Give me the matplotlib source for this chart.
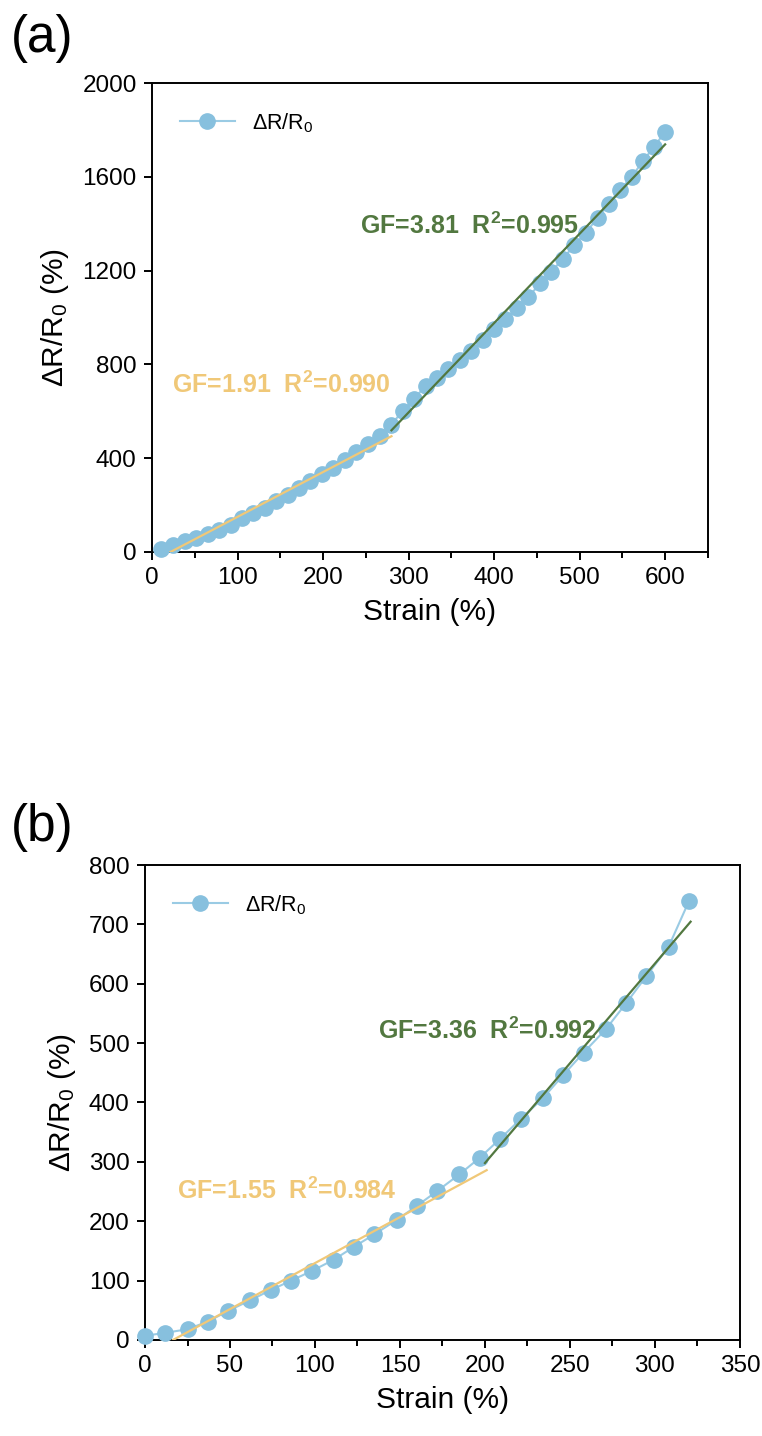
import matplotlib
matplotlib.use("Agg")
import matplotlib.pyplot as plt
from matplotlib.ticker import MultipleLocator
import numpy as np

plt.rcParams['font.family'] = ['Liberation Sans', 'DejaVu Sans']
plt.rcParams['mathtext.fontset'] = 'custom'
plt.rcParams['mathtext.rm'] = 'Liberation Sans'
plt.rcParams['mathtext.it'] = 'Liberation Sans:italic'
plt.rcParams['mathtext.bf'] = 'Liberation Sans:bold'

# (a) 数据
strain_a = [11, 24, 38, 51, 65, 78, 92, 105, 118, 132,
            145, 159, 172, 185, 199, 212, 226, 239, 252, 266,
            279, 293, 306, 320, 333, 346, 360, 373, 387, 400,
            413, 427, 440, 454, 467, 480, 494, 507, 521, 534,
            547, 561, 574, 587, 600]
resp_a = [14, 31, 46, 61, 78, 95, 117, 145, 168, 188,
          218, 245, 275, 302, 331, 360, 394, 427, 462, 494,
          541, 600, 654, 707, 743, 780, 818, 858, 903, 949,
          993, 1041, 1088, 1145, 1195, 1249, 1309, 1361, 1425, 1484,
          1543, 1600, 1667, 1728, 1792]
# 拟合: (GF, 起点 x, 起点 y, 终点 x, R2)
fit_low_a = (1.91, 21.5, 0, 280, 0.990)
fit_high_a = (3.81, 280, 519, 600, 0.995)

# (b) 数据
strain_b = [0, 12, 25, 37, 49, 62, 74, 86, 98, 111,
            123, 135, 148, 160, 172, 185, 197, 209, 221, 234,
            246, 258, 271, 283, 295, 308, 320]
resp_b = [7, 12, 18, 31, 49, 67, 84, 100, 116, 135,
          157, 178, 202, 226, 251, 279, 307, 339, 372, 407,
          446, 484, 523, 567, 613, 662, 739]
fit_low_b = (1.55, 16.5, 0, 201, 0.984)
fit_high_b = (3.36, 200, 298, 321, 0.992)

BLUE = '#87C0DE'
LINE_BLUE = '#9ACBE4'
YELLOW = '#F0C878'
GREEN = '#527840'


def fit_line(ax, fit, color):
    gf, x0, y0, x1, r2 = fit
    xs = np.array([x0, x1])
    ax.plot(xs, y0 + gf * (xs - x0), color=color, lw=1.6, zorder=4)


def draw_panel(ax, x, y, fits, texts, xlim, ylim, xmajor, ymajor):
    ax.plot(x, y, '-o', color=LINE_BLUE, mfc=BLUE, mec=BLUE, ms=11, lw=1.5,
            label='ΔR/R$\\mathregular{_0}$', zorder=3, clip_on=False)
    fit_line(ax, fits[0], YELLOW)
    fit_line(ax, fits[1], GREEN)
    for (tx, ty), fit, c in zip(texts, fits, [YELLOW, GREEN]):
        ax.text(tx, ty, 'GF=%.2f  R$\\mathregular{^2}$=%.3f' % (fit[0], fit[4]),
                color=c, fontsize=18, fontweight='bold', va='center')
    ax.set_xlim(*xlim)
    ax.set_ylim(*ylim)
    ax.xaxis.set_major_locator(MultipleLocator(xmajor))
    ax.xaxis.set_minor_locator(MultipleLocator(xmajor / 2))
    ax.yaxis.set_major_locator(MultipleLocator(ymajor))
    ax.tick_params(which='major', direction='out', length=6, width=1.4,
                   labelsize=17.5, top=False, right=False, pad=5)
    ax.tick_params(which='minor', direction='out', length=4, width=1.4)
    for s in ax.spines.values():
        s.set_linewidth(1.4)
    ax.set_xlabel('Strain (%)', fontsize=21.5, labelpad=6)
    ax.set_ylabel('ΔR/R$\\mathregular{_0}$ (%)', fontsize=21.5, labelpad=8)
    ax.legend(loc='upper left', frameon=False, fontsize=15.5, handlelength=2.55,
              borderaxespad=0.9, bbox_to_anchor=(0.0, 1.0))


fig = plt.figure(figsize=(7.62, 14.36), dpi=100)
ax1 = fig.add_axes([0.1995, 0.6156, 0.7295, 0.3266])
ax2 = fig.add_axes([0.1903, 0.0669, 0.7807, 0.3307])

draw_panel(ax1, strain_a, resp_a, [fit_low_a, fit_high_a],
           [(23, 712), (243, 1390)], (0, 650), (0, 2000), 100, 400)
draw_panel(ax2, strain_b, resp_b, [fit_low_b, fit_high_b],
           [(19, 252), (137, 520)], (0, 350), (0, 800), 50, 100)

fig.text(0.014, 0.973, '(a)', fontsize=37, va='center', ha='left')
fig.text(0.014, 0.424, '(b)', fontsize=37, va='center', ha='left')

plt.savefig('out.png', dpi=100)
